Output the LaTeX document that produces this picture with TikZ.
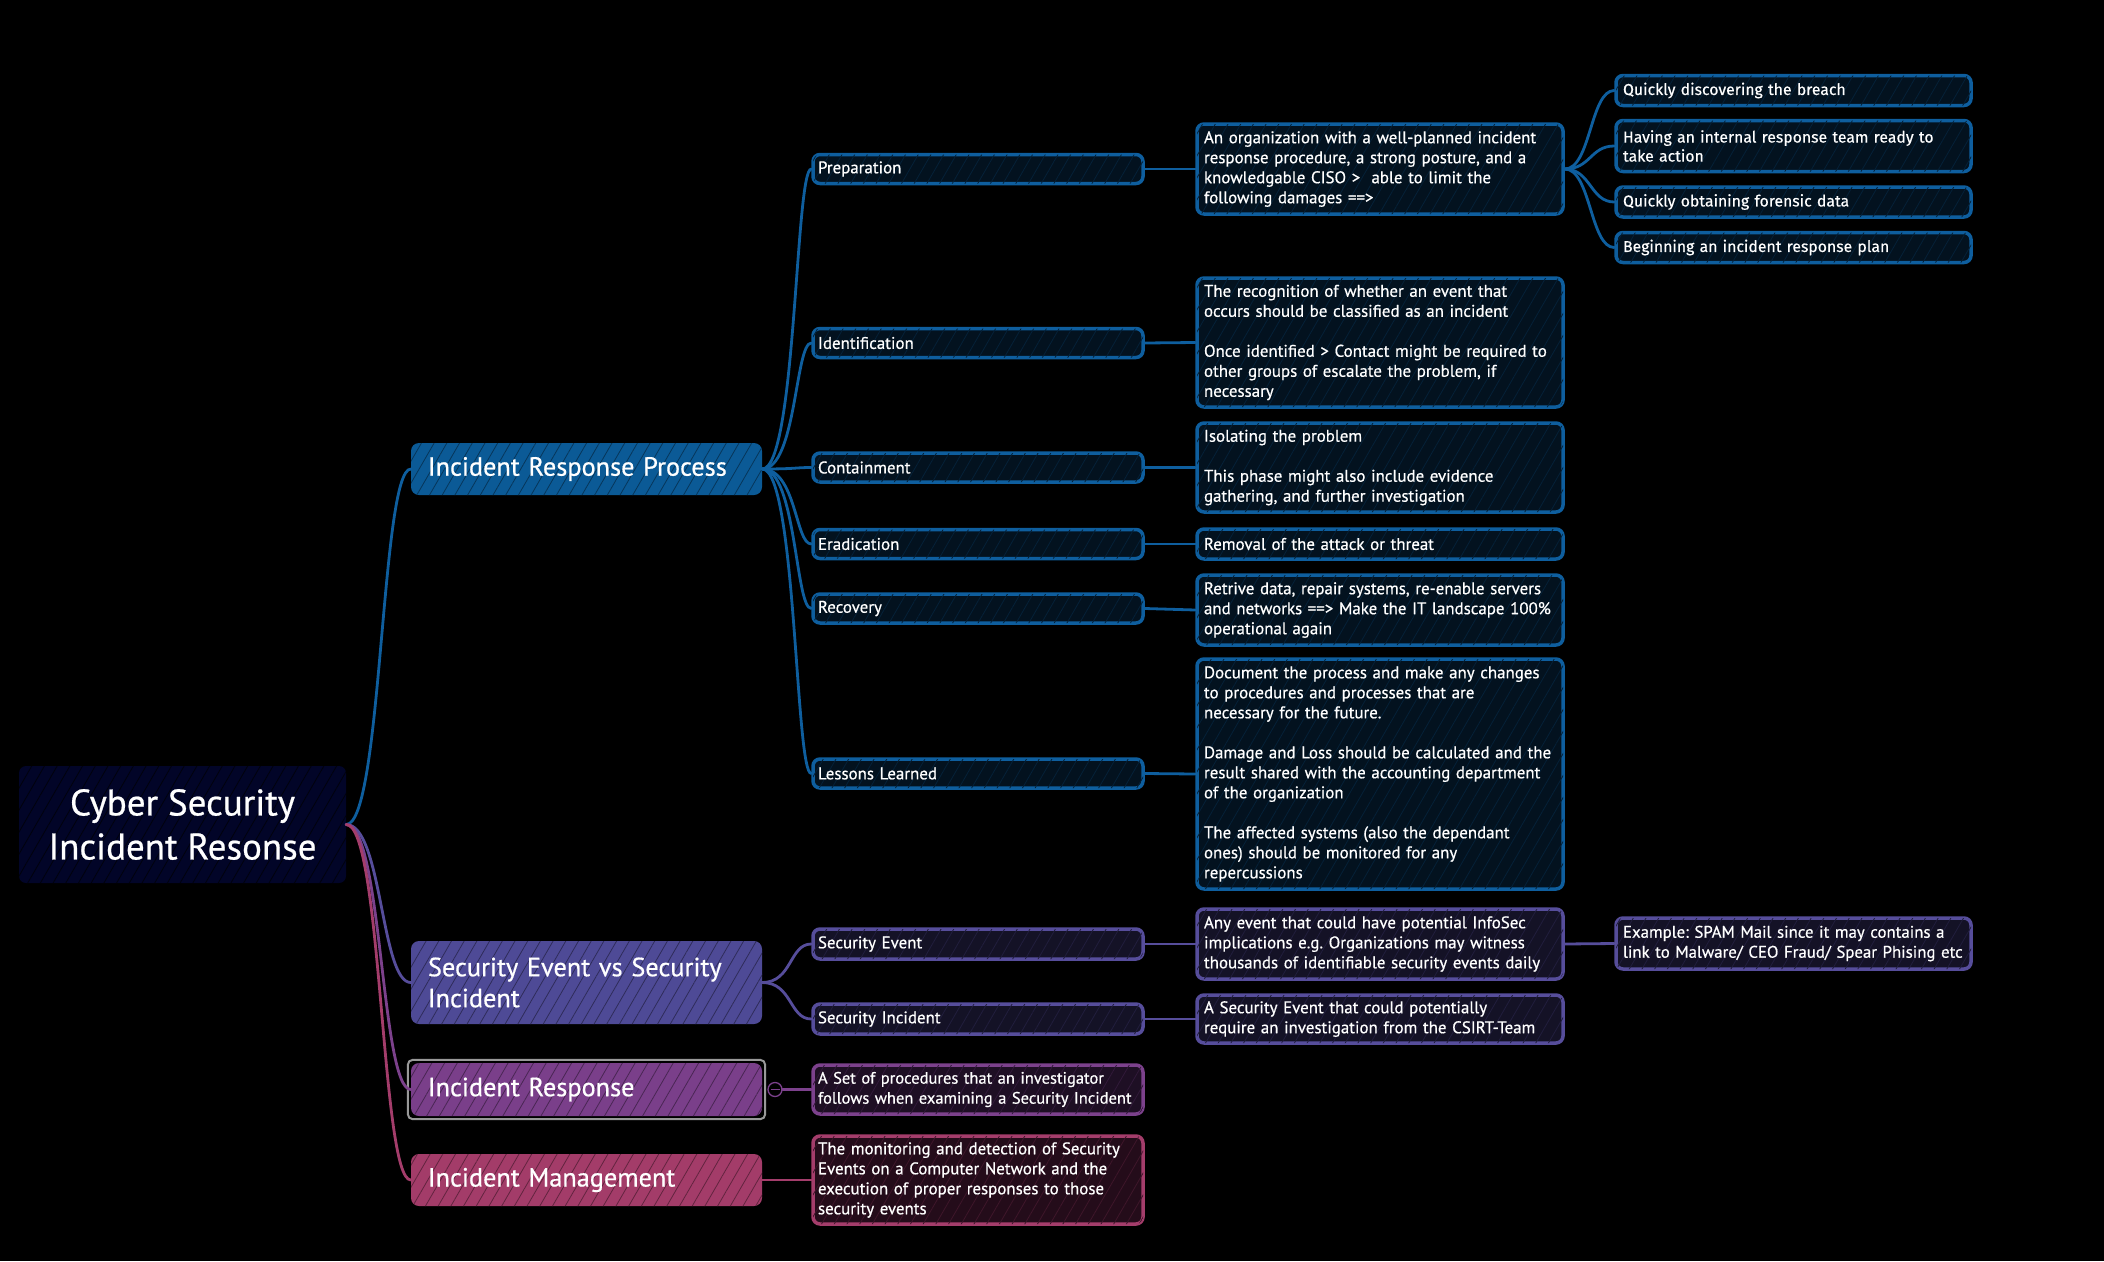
\documentclass[tikz,border=0pt]{standalone}
\usepackage{fontspec}
\setmainfont{PT Sans}[FakeBold=0.6]
\newfontfamily\leaffont{Fira Sans}[FakeBold=0.4]
\usetikzlibrary{patterns.meta}
\frenchspacing
\definecolor{cblue}{HTML}{0E5E9E}
\definecolor{cbluefill}{HTML}{0B5A96}
\definecolor{cbluedark}{HTML}{03121F}
\definecolor{cpurp}{HTML}{564D9B}
\definecolor{cpurpfill}{HTML}{4E4A96}
\definecolor{cpurpdark}{HTML}{141226}
\definecolor{cviol}{HTML}{7C418C}
\definecolor{cviolfill}{HTML}{7A3F8A}
\definecolor{cvioldark}{HTML}{1E0F24}
\definecolor{cpink}{HTML}{A43D6B}
\definecolor{cpinkfill}{HTML}{A33C69}
\definecolor{cpinkdark}{HTML}{240C1A}
\definecolor{crootfill}{HTML}{020528}
\begin{document}
\begin{tikzpicture}[x=1pt,y=-1pt,
  hatch/.style={postaction={pattern={Lines[angle=60,distance=11pt,line width=0.8pt]},pattern color=#1}},
  base/.style={rounded corners=7pt, inner xsep=7pt, inner ysep=2pt, align=left, text=white,
    font=\fontsize{16.9}{20}\selectfont\frenchspacing, anchor=center},
  rootnode/.style={base, fill=crootfill, align=center, minimum width=327pt, minimum height=117pt,
    font=\fontsize{37}{44}\selectfont, hatch=black!70!crootfill},
  mainnode/.style={base, rounded corners=8pt, minimum width=351pt, text width=317pt, inner xsep=17pt,
    font=\fontsize{26.3}{31}\selectfont},
  subnode/.style={base, line width=3.5pt, text width=320pt, inner xsep=5pt, minimum width=330pt},
  descnode/.style={base, line width=3.5pt, text width=352pt, minimum width=366pt},
  leafnode/.style={base, line width=3.5pt, text width=341pt, minimum width=355pt,
    font=\leaffont\fontsize{15.8}{19}\selectfont},
  bluebox/.style={draw=cblue, fill=cbluedark, hatch=cblue!20!cbluedark},
  purpbox/.style={draw=cpurp, fill=cpurpdark, hatch=cpurp!20!cpurpdark},
  violbox/.style={draw=cviol, fill=cvioldark, hatch=cviol!20!cvioldark},
  pinkbox/.style={draw=cpink, fill=cpinkdark, hatch=cpink!20!cpinkdark},
  conn/.style={line width=2.8pt, line cap=round}
]
\useasboundingbox[fill=black] (0,0) rectangle (2104,1261);

% root
\node[rootnode] (root) at (182.5,824.5) {Cyber Security\\Incident Resonse};

% main branches
\node[mainnode, fill=cbluefill, hatch=cbluefill!60!black, minimum height=52pt] (irp) at (586.5,469) {Incident Response Process};
\node[mainnode, fill=cpurpfill, hatch=cpurpfill!60!black, minimum height=83pt] (sevsi) at (586.5,982.5) {Security Event vs Security\\Incident};
\node[mainnode, fill=cviolfill, hatch=cviolfill!60!black, minimum height=53pt] (ir) at (586.5,1089.5) {Incident Response};
\node[mainnode, fill=cpinkfill, hatch=cpinkfill!60!black, minimum height=52pt] (im) at (586.5,1180) {Incident Management};

% selection frame
\draw[black!40!white, line width=2pt, rounded corners=5pt]
  ([xshift=-3pt,yshift=3pt]ir.north west) rectangle ([xshift=3pt,yshift=-3pt]ir.south east);

% level 2 (process)
\node[subnode, bluebox, minimum height=29pt] (prep) at (978,169) {Preparation};
\node[subnode, bluebox, minimum height=29pt] (ident) at (978,343) {Identification};
\node[subnode, bluebox, minimum height=29pt] (cont) at (978,467.5) {Containment};
\node[subnode, bluebox, minimum height=29pt] (erad) at (978,544) {Eradication};
\node[subnode, bluebox, minimum height=29pt] (recov) at (978,608.5) {Recovery};
\node[subnode, bluebox, minimum height=29pt] (less) at (978,773.5) {Lessons Learned};

% level 3 (process)
\node[descnode, bluebox, minimum height=90pt] (prepd) at (1380,169) {An organization with a well-planned incident\\response procedure, a strong posture, and a\\knowledgable CISO >\ \ able to limit the\\following damages ==>};
\node[descnode, bluebox, minimum height=129pt] (identd) at (1380,342.5) {The recognition of whether an event that\\occurs should be classified as an incident\\[20pt]Once identified > Contact might be required to\\other groups of escalate the problem, if\\necessary};
\node[descnode, bluebox, minimum height=89pt] (contd) at (1380,467.5) {Isolating the problem\\[20pt]This phase might also include evidence\\gathering, and further investigation};
\node[descnode, bluebox, minimum height=30pt] (eradd) at (1380,544) {Removal of the attack or threat};
\node[descnode, bluebox, minimum height=70pt] (recovd) at (1380,610) {Retrive data, repair systems, re-enable servers\\and networks ==> Make the IT landscape 100\%\\operational again};
\node[descnode, bluebox, minimum height=230pt] (lessd) at (1380,774) {Document the process and make any changes\\to procedures and processes that are\\necessary for the future.\\[20pt]Damage and Loss should be calculated and the\\result shared with the accounting department\\of the organization\\[20pt]The affected systems (also the dependant\\ones) should be monitored for any\\repercussions};

% level 4 (preparation)
\node[leafnode, bluebox, minimum height=30pt] (q1) at (1793.5,90.5) {Quickly discovering the breach};
\node[leafnode, bluebox, minimum height=51pt] (q2) at (1793.5,146) {Having an internal response team ready to\\take action};
\node[leafnode, bluebox, minimum height=30pt] (q3) at (1793.5,202) {Quickly obtaining forensic data};
\node[leafnode, bluebox, minimum height=30pt] (q4) at (1793.5,247.5) {Beginning an incident response plan};

% security event vs incident
\node[subnode, purpbox, minimum height=30pt] (se) at (978,944) {Security Event};
\node[subnode, purpbox, minimum height=30pt] (si) at (978,1019) {Security Incident};
\node[descnode, purpbox, minimum height=70pt] (sed) at (1380,944) {Any event that could have potential InfoSec\\implications e.g. Organizations may witness\\thousands of identifiable security events daily};
\node[descnode, purpbox, minimum height=48pt] (sid) at (1380,1019) {A Security Event that could potentially\\require an investigation from the CSIRT-Team};
\node[leafnode, purpbox, minimum height=51pt, font=\fontsize{16.8}{20}\selectfont] (ex) at (1793.5,943.5) {Example: SPAM Mail since it may contains a\\link to Malware/ CEO Fraud/ Spear Phising etc};

% incident response / management
\node[subnode, violbox, minimum height=49pt, font=\fontsize{16.5}{20}\selectfont] (ird) at (978,1089.5) {A Set of procedures that an investigator\\follows when examining a Security Incident};
\node[subnode, pinkbox, minimum height=88pt] (imd) at (978,1180) {The monitoring and detection of Security\\Events on a Computer Network and the\\execution of proper responses to those\\security events};

% collapse button
\node[circle, draw=cviol, fill=black, line width=1.3pt, minimum size=14pt, inner sep=0pt] (col) at (775,1089.5) {};
\draw[cviol, line width=1.2pt] ([xshift=-4.5pt]col.center) -- ([xshift=4.5pt]col.center);

% connectors: root
\draw[conn, cblue] (root.east) .. controls +(36,0) and +(-30,0) .. (irp.west);
\draw[conn, cpurp] (root.east) .. controls +(36,0) and +(-30,0) .. (sevsi.west);
\draw[conn, cviol] (root.east) .. controls +(36,0) and +(-30,0) .. (ir.west);
\draw[conn, cpink] (root.east) .. controls +(36,0) and +(-30,0) .. (im.west);

% connectors: process
\foreach \n in {prep,ident,cont,erad,recov,less}
  \draw[conn, cblue] (irp.east) .. controls +(34,0) and +(-16,0) .. (\n.west);
\draw[conn, cblue] (prep.east) -- (prepd.west);
\draw[conn, cblue] (ident.east) -- (identd.west);
\draw[conn, cblue] (cont.east) -- (contd.west);
\draw[conn, cblue] (erad.east) -- (eradd.west);
\draw[conn, cblue] (recov.east) -- (recovd.west);
\draw[conn, cblue] (less.east) -- (lessd.west);
\foreach \n in {q1,q2,q3,q4}
  \draw[conn, cblue] (prepd.east) .. controls +(26,0) and +(-24,0) .. (\n.west);

% connectors: security event / incident
\draw[conn, cpurp] (sevsi.east) .. controls +(30,0) and +(-22,0) .. (se.west);
\draw[conn, cpurp] (sevsi.east) .. controls +(30,0) and +(-22,0) .. (si.west);
\draw[conn, cpurp] (se.east) -- (sed.west);
\draw[conn, cpurp] (si.east) -- (sid.west);
\draw[conn, cpurp] (sed.east) -- (ex.west);

% connectors: incident response / management
\draw[conn, cviol] (col.east) -- (ird.west);
\draw[conn, cpink] (im.east) -- (imd.west);
\end{tikzpicture}
\end{document}
